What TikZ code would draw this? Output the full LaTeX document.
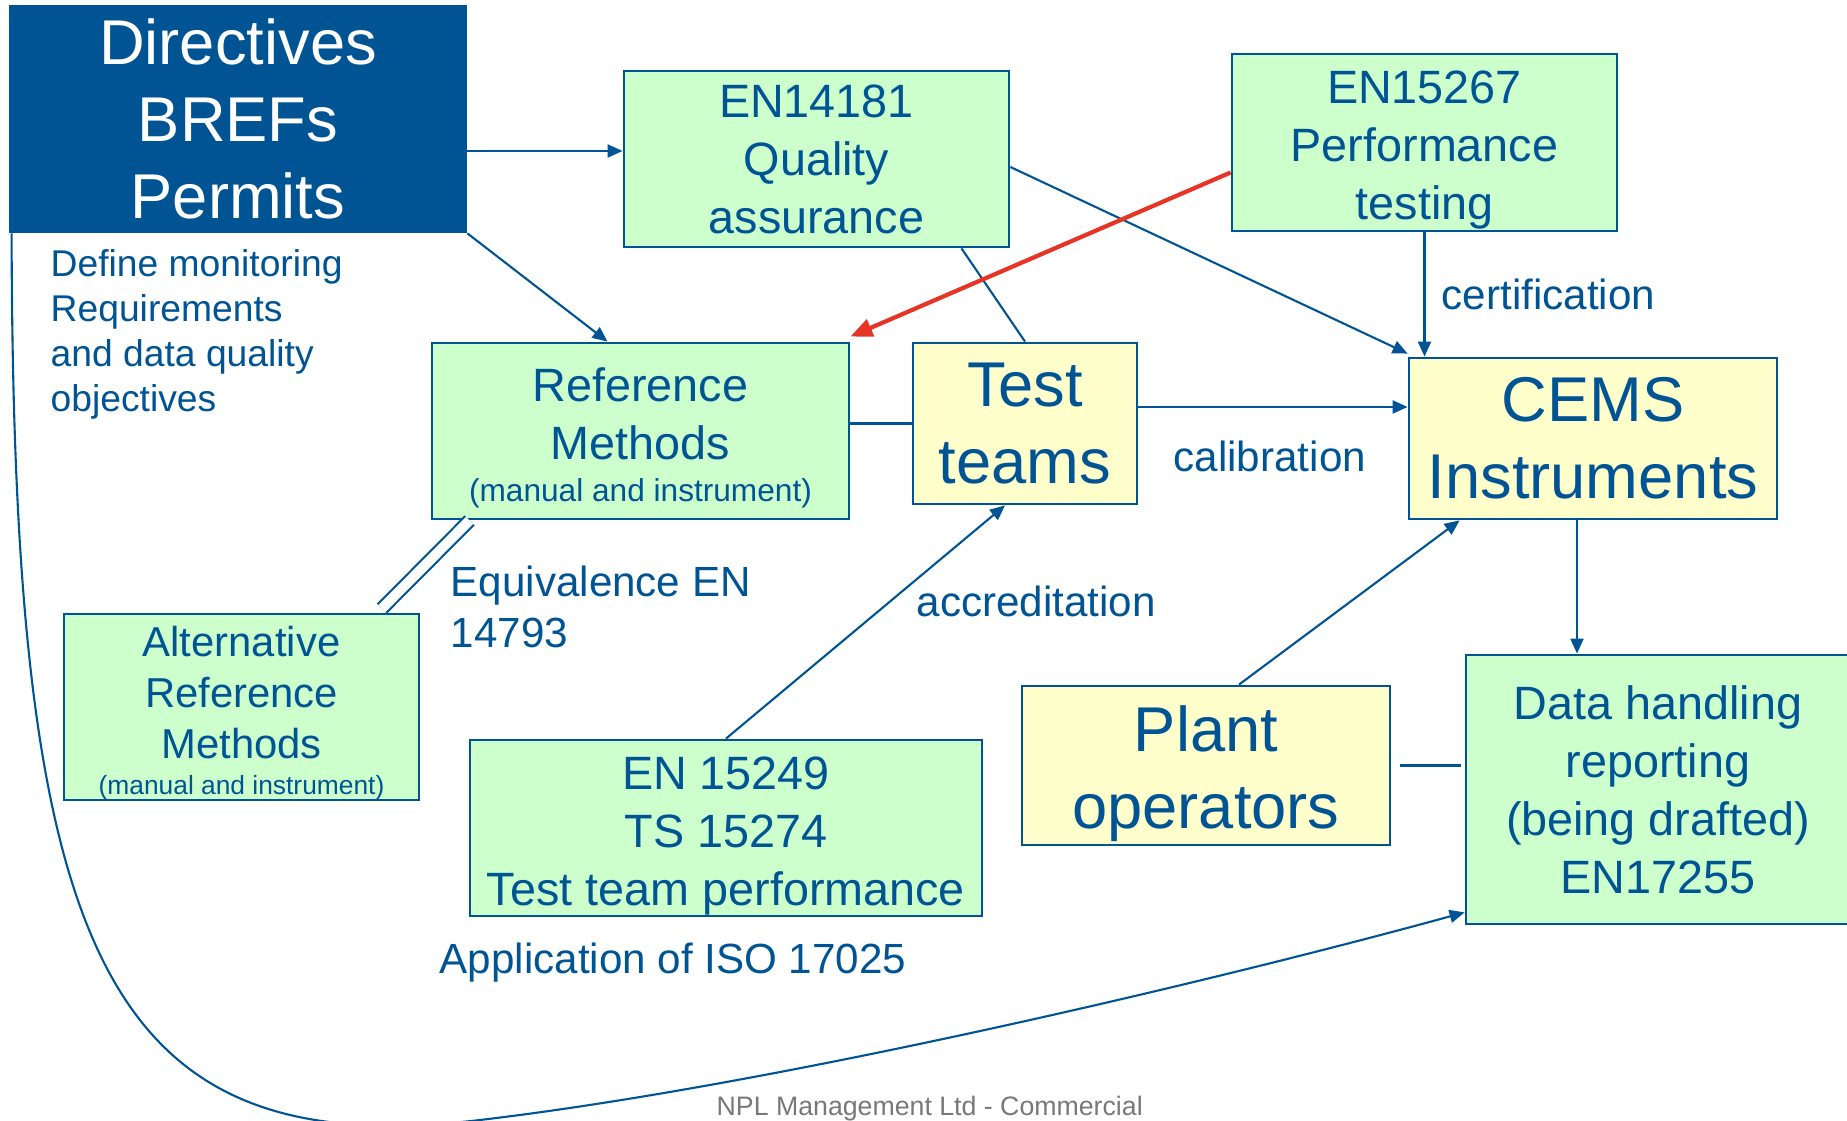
\documentclass[tikz,border=0pt]{standalone}
\usepackage{fontspec}
\setmainfont{Liberation Sans}
\usetikzlibrary{arrows.meta,positioning}
\definecolor{nplblue}{RGB}{0, 84, 148}
\definecolor{boxgreen}{RGB}{204, 255, 204}
\definecolor{boxyellow}{RGB}{255, 255, 204}
\definecolor{arrowred}{RGB}{232, 52, 36}
\definecolor{footgrey}{RGB}{120, 120, 120}
% taller first line, so that the text sits lower in its box
\newcommand{\dropby}[1]{\rule{0pt}{\dimexpr0.73em+#1\relax}}

\begin{document}
\begin{tikzpicture}[
    box/.style={draw=nplblue, line width=0.8pt, inner sep=0pt, align=center, text=nplblue},
    greenbox/.style={box, fill=boxgreen},
    yellowbox/.style={box, fill=boxyellow},
    big/.style={font=\fontsize{18}{21.8}\selectfont},
    mid/.style={font=\fontsize{13.3}{16.5}\selectfont},
    note/.style={text=nplblue, inner sep=0pt, font=\fontsize{12}{14.5}\selectfont},
    link/.style={draw=nplblue, line width=0.6pt},
    arr/.style={link, -{Triangle[length=0.15cm, width=0.13cm]}}
]
    % Page frame
    \useasboundingbox (0,0) rectangle (18.47,-11.21);
    \clip (0,0) rectangle (18.47,-11.21);

    % Boxes
    \node[box, fill=nplblue, text=white, big, minimum width=4.56cm, minimum height=2.26cm] (dir) at (2.38,-1.19) {Directives\\BREFs\\Permits};
    \node[greenbox, mid, minimum width=3.85cm, minimum height=1.76cm] (qa) at (8.165,-1.59) {EN14181\\Quality\\assurance};
    \node[greenbox, mid, minimum width=3.85cm, minimum height=1.77cm] (perf) at (14.245,-1.425) {\dropby{3.7pt}EN15267\\Performance\\testing};
    \node[greenbox, mid, minimum width=4.17cm, minimum height=1.76cm] (ref) at (6.405,-4.31) {\dropby{3.7pt}Reference\\Methods\\[-4.7pt]{\fontsize{9}{11}\selectfont(manual and instrument)}};
    \node[yellowbox, big, minimum width=2.24cm, minimum height=1.61cm] (team) at (10.25,-4.235) {Test\\teams};
    \node[yellowbox, big, minimum width=3.68cm, minimum height=1.61cm] (cems) at (15.93,-4.385) {CEMS\\Instruments};
    \node[greenbox, font=\fontsize{11.9}{14.5}\selectfont, minimum width=3.55cm, minimum height=1.86cm] (alt) at (2.415,-7.07) {\dropby{3.4pt}Alternative\\Reference\\Methods\\[-4.5pt]{\fontsize{7.5}{9}\selectfont(manual and instrument)}};
    \node[greenbox, mid, minimum width=5.12cm, minimum height=1.76cm] (ts) at (7.26,-8.28) {\dropby{4pt}EN 15249\\TS 15274\\Test team performance};
    \node[yellowbox, big, minimum width=3.68cm, minimum height=1.59cm] (plant) at (12.06,-7.655) {\dropby{4.7pt}Plant\\operators};
    \node[greenbox, mid, minimum width=3.84cm, minimum height=2.69cm] (data) at (16.58,-7.895) {Data handling\\reporting\\(being drafted)\\EN17255};

    % Labels
    \node[note, font=\fontsize{10.6}{12.8}\selectfont, align=left, anchor=north west] (define) at (0.50,-2.49) {Define monitoring\\Requirements\\and data quality\\objectives};
    \node[note, align=left, anchor=north west] (equiv) at (4.50,-5.65) {Equivalence EN\\14793};
    \node[note, anchor=base west] (cert) at (14.41,-3.10) {certification};
    \node[note, anchor=base west] (calib) at (11.73,-4.72) {calibration};
    \node[note, anchor=base west] (accred) at (9.16,-6.17) {accreditation};
    \node[note, anchor=base west] (iso) at (4.39,-9.74) {Application of ISO 17025};
    \node[text=footgrey, inner sep=0pt, font=\fontsize{7.6}{9}\selectfont, anchor=base west] (footer) at (7.16,-11.16) {NPL Management Ltd - Commercial};

    % From the directives
    \draw[arr] ([yshift=-0.32cm]dir.east) -- ([yshift=-0.32cm]dir.east -| qa.west);
    \draw[arr] (dir.south east) -- ([xshift=-0.33cm]ref.north);
    \draw[arr] ([xshift=0.03cm]dir.south west) .. controls (0.13,-9.5) and (1.0,-11.65) .. (4.8,-11.2)
        .. controls (7.8,-10.845) and (12.16,-9.805) .. ([yshift=0.13cm]data.south west);

    % Standards
    \draw[arr] ([yshift=-0.08cm]qa.east) -- ([yshift=0.03cm]cems.north west);
    \draw[link] ([xshift=1.45cm]qa.south) -- (team.north);
    \draw[draw=arrowred, line width=1.2pt, -{Triangle[length=0.22cm, width=0.18cm]}] ([yshift=-0.3cm]perf.west) -- ([yshift=0.05cm]ref.north east);
    \draw[arr] (perf.south) -- (perf.south |- cems.north);

    % Test teams
    \draw[link] (team.west -| ref.east) -- (team.west);
    \draw[arr] ([yshift=0.165cm]team.east) -- ([yshift=0.165cm]team.east -| cems.west);
    \draw[arr] (ts.north) -- ([xshift=-0.2cm]team.south);

    % Equivalence
    \draw[link, double=white, double distance=0.1cm] ([xshift=0.39cm]ref.south west) -- ([xshift=-0.385cm, yshift=0.04cm]alt.north east);

    % Plant and data
    \draw[arr] ([xshift=0.33cm]plant.north) -- ([xshift=0.52cm]cems.south west);
    \draw[arr] ([xshift=-0.16cm]cems.south) -- ([xshift=-0.16cm]cems.south |- data.north);
    \draw[link] ([xshift=0.09cm]plant.east) -- ([xshift=-0.04cm]plant.east -| data.west);
\end{tikzpicture}
\end{document}
